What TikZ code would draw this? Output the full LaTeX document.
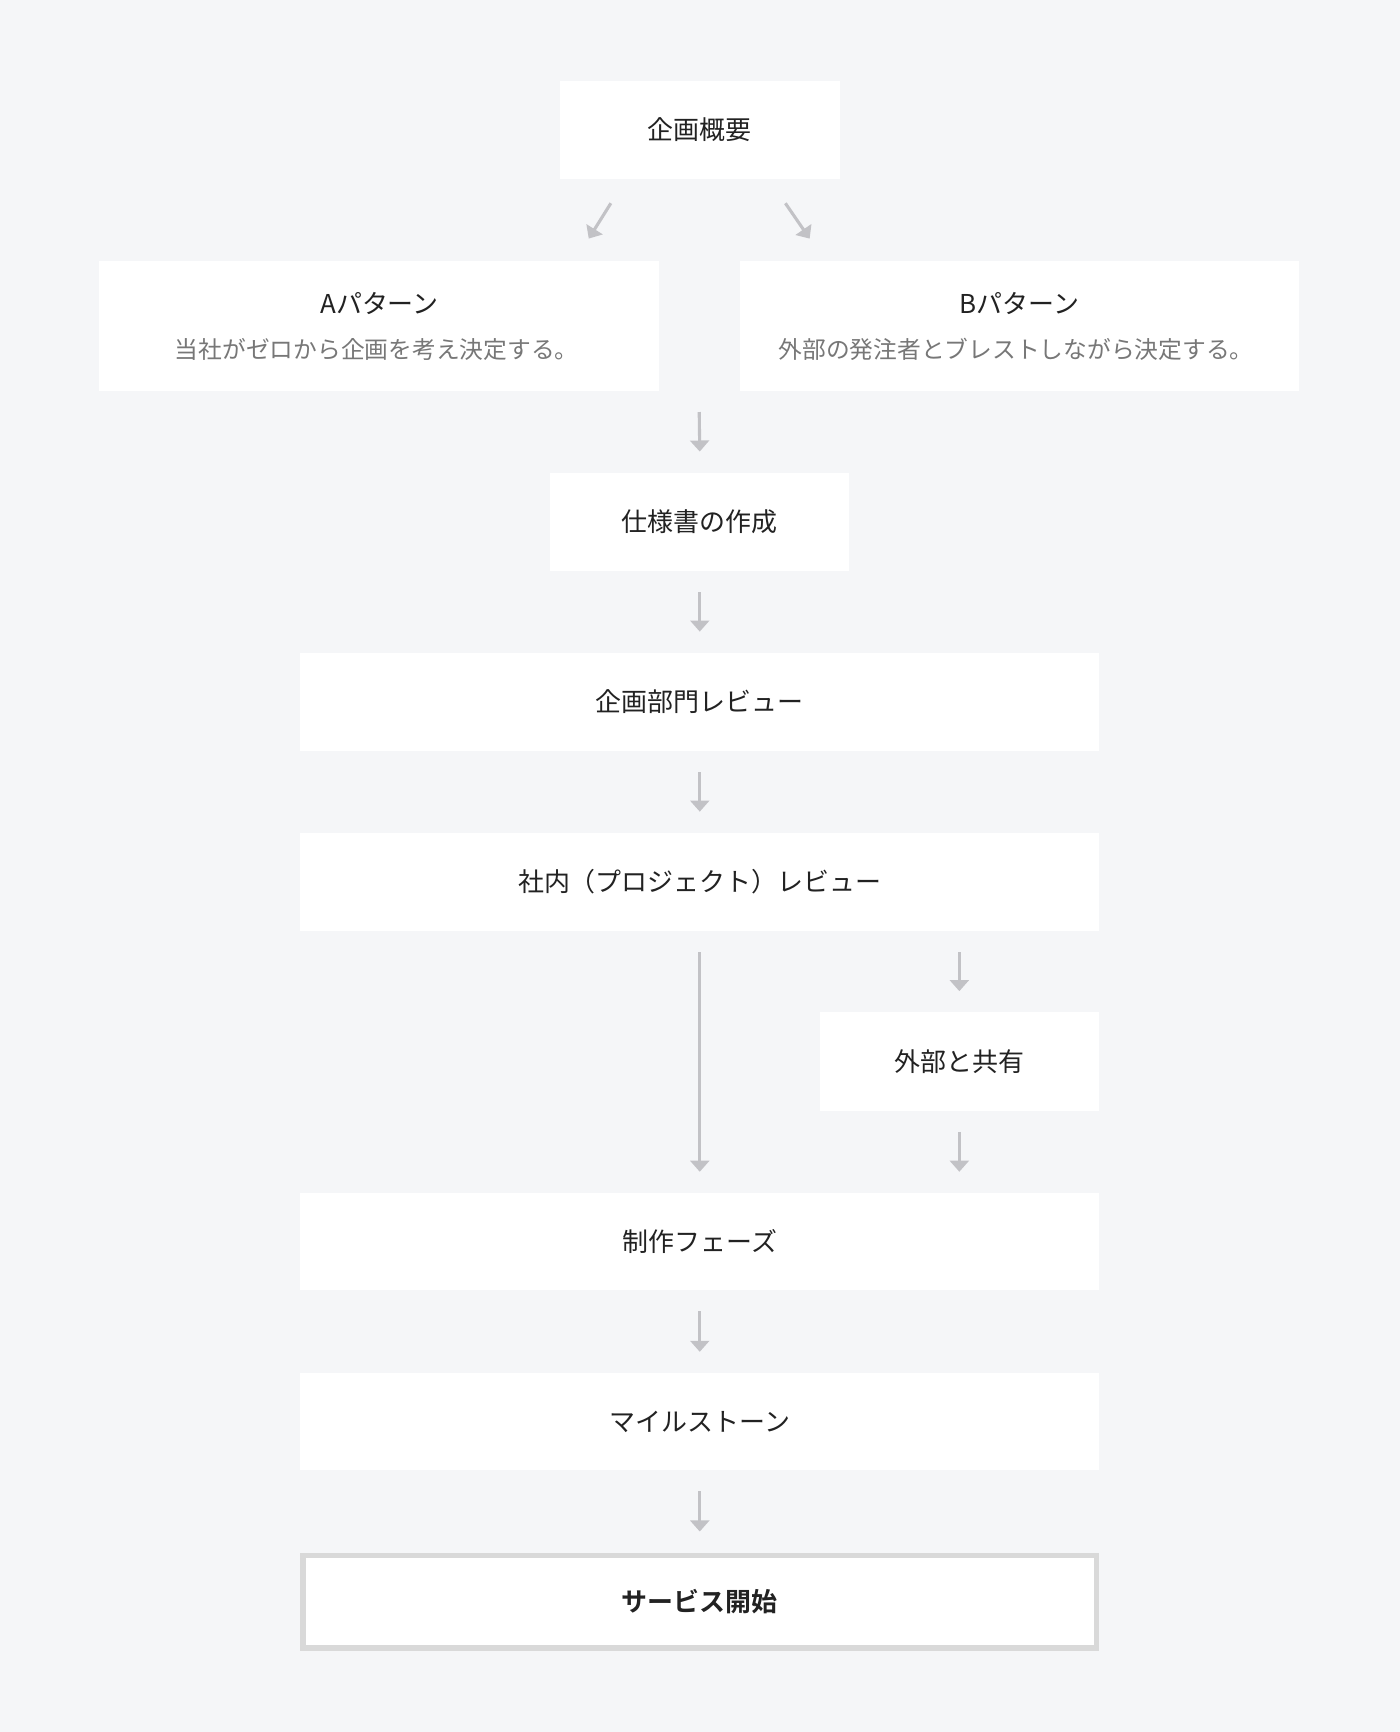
\documentclass[tikz,border=0pt]{standalone}
\usepackage{fontspec}
\setmainfont{Noto Sans CJK JP}
\newfontfamily\jpb{Noto Sans CJK JP Bold}
\usetikzlibrary{arrows.meta}
\definecolor{bgc}{HTML}{F5F6F8}
\definecolor{arc}{HTML}{C2C2C6}
\definecolor{txt}{HTML}{222222}
\definecolor{sub}{HTML}{777777}
\tikzset{
 box/.style={fill=white,draw=none,inner sep=0,font=\fontsize{23.5}{27}\selectfont,text=txt},
 arr/.style={draw=arc,line width=2.8pt,-{Triangle[width=17pt,length=10pt]}},
}
\begin{document}
\begin{tikzpicture}[x=1pt,y=-1pt]
\fill[bgc] (0,0) rectangle (1267,1568);
\useasboundingbox (0,0) rectangle (1267,1568);
\node[box,minimum width=253,minimum height=89] (plan) at (633.5,117.5) {企画概要};
\node[box,minimum width=507,minimum height=118] (pa) at (343.5,295) {};
\node[text=txt,font=\fontsize{23.5}{27}\selectfont] at (343.5,275) {Aパターン};
\node[font=\fontsize{21.5}{25}\selectfont,text=sub] at (341,316) {当社がゼロから企画を考え決定する。};
\node[box,minimum width=506,minimum height=118] (pb) at (923,295) {};
\node[font=\fontsize{23.5}{27}\selectfont,text=txt] at (923,275) {Bパターン};
\node[font=\fontsize{21.5}{25}\selectfont,text=sub] at (920,316) {外部の発注者とブレストしながら決定する。};
\node[box,minimum width=271,minimum height=89] (spec) at (633.5,472.5) {仕様書の作成};
\node[box,minimum width=723,minimum height=89] (rev1) at (633.5,635.5) {企画部門レビュー};
\node[box,minimum width=723,minimum height=89] (rev2) at (633.5,798.5) {社内（プロジェクト）レビュー};
\node[box,minimum width=253,minimum height=89] (ext) at (868.5,961) {外部と共有};
\node[box,minimum width=723,minimum height=88] (prod) at (633.5,1124) {制作フェーズ};
\node[box,minimum width=723,minimum height=88] (mile) at (633.5,1287) {マイルストーン};
\node[box,draw=black!15,line width=5pt,minimum width=718,minimum height=84,font=\jpb\fontsize{23.5}{27}\selectfont] (svc) at (633.5,1450) {サービス開始};
\coordinate (d1s) at (553,184); \coordinate (d1e) at (533,216);
\coordinate (d2s) at (711,184); \coordinate (d2e) at (733,216);
\draw[arr] (d1s) -- (d1e);
\draw[arr] (d2s) -- (d2e);
\coordinate (m1) at (633,373);
\draw[arr] (m1) -- ([yshift=19]spec.north);
\draw[arr] ([yshift=-19]spec.south) -- ([yshift=19]rev1.north);
\draw[arr] ([yshift=-19]rev1.south) -- ([yshift=19]rev2.north);
\draw[arr] ([yshift=-19]rev2.south) -- ([yshift=19]prod.north);
\draw[arr] ([yshift=-19]rev2.south -| ext.north) -- ([yshift=19]ext.north);
\draw[arr] ([yshift=-19]ext.south) -- ([yshift=19]prod.north -| ext.south);
\draw[arr] ([yshift=-19]prod.south) -- ([yshift=19]mile.north);
\draw[arr] ([yshift=-19]mile.south) -- ([yshift=19]svc.north);
\end{tikzpicture}
\end{document}
